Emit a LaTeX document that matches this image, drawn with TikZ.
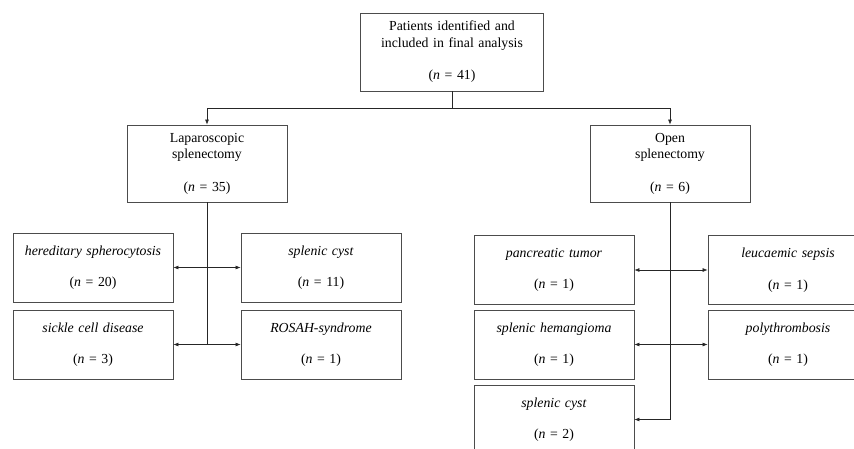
\documentclass[tikz,border=0pt]{standalone}
\usepackage{fontspec}
\setmainfont{Liberation Serif}
\usetikzlibrary{arrows.meta}
\tikzset{
  box/.style={draw=black!70, line width=0.9pt, fill=white, minimum width=160pt, text width=158pt, align=center, inner sep=0pt, font=\fontsize{13.8}{16.5}\selectfont},
  mainbox/.style={box, minimum height=77pt},
  subbox/.style={box, minimum height=69pt},
  conn/.style={draw=black!85, line width=0.6pt},
  tip/.style={-{Latex[length=5pt,width=4pt]}},
  dtip/.style={{Latex[length=5pt,width=4pt]}-{Latex[length=5pt,width=4pt]}}
}
\begin{document}
\begin{tikzpicture}[x=1pt,y=-1pt]
\useasboundingbox (0,0) rectangle (854,448);
\clip (0,0) rectangle (854,448);
\node[mainbox, minimum width=183pt, text width=181pt, minimum height=78pt] (top) at (452,52) {Patients identified and\\included in final analysis\\[16pt](\textit{n} = 41)};
\node[mainbox] (lap) at (207,163.5) {Laparoscopic\\splenectomy\\[16pt](\textit{n} = 35)};
\node[mainbox] (open) at (670,163.5) {Open\\splenectomy\\[16pt](\textit{n} = 6)};
\node[subbox] (her) at (93,267.5) {\textit{hereditary spherocytosis}\\[15pt](\textit{n} = 20)};
\node[subbox] (cysta) at (321,267.5) {\textit{splenic cyst}\\[15pt](\textit{n} = 11)};
\node[subbox] (sic) at (93,344.5) {\textit{sickle cell disease}\\[15pt](\textit{n} = 3)};
\node[subbox] (ros) at (321,344.5) {\textit{ROSAH-syndrome}\\[15pt](\textit{n} = 1)};
\node[subbox] (pan) at (554,270) {\textit{pancreatic tumor}\\[15pt](\textit{n} = 1)};
\node[subbox] (leu) at (788,270) {\textit{leucaemic sepsis}\\[15pt](\textit{n} = 1)};
\node[subbox] (hem) at (554,344.5) {\textit{splenic hemangioma}\\[15pt](\textit{n} = 1)};
\node[subbox] (poly) at (788,344.5) {\textit{polythrombosis}\\[15pt](\textit{n} = 1)};
\node[subbox] (cystb) at (554,419.5) {\textit{splenic cyst}\\[15pt](\textit{n} = 2)};
\draw[conn] (top.south) -- (top.south |- 0,108) coordinate (sp);
\draw[conn, tip] (sp) -| (lap.north);
\draw[conn, tip] (sp) -| (open.north);
\draw[conn] (lap.south) -- (lap.south |- sic.east);
\draw[conn, dtip] (her.east) -- (cysta.west);
\draw[conn, dtip] (sic.east) -- (ros.west);
\draw[conn] (open.south) -- (open.south |- cystb.east) coordinate (ob);
\draw[conn, dtip] (pan.east) -- (leu.west);
\draw[conn, dtip] (hem.east) -- (poly.west);
\draw[conn, tip] (ob) -- (cystb.east);
\end{tikzpicture}
\end{document}
